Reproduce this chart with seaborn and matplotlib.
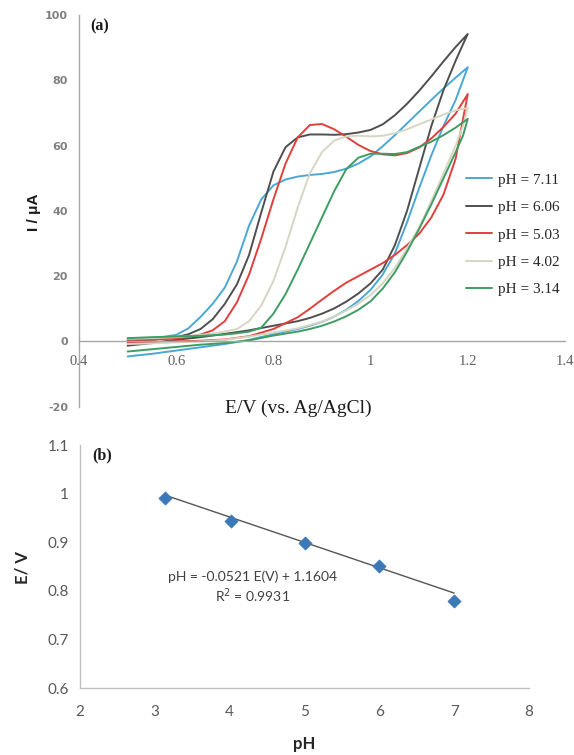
import numpy as np
import pandas as pd
import matplotlib
matplotlib.use("Agg")
import matplotlib.pyplot as plt
import seaborn as sns

# ---------------- (a) cyclic voltammograms ----------------
ph_labels = ["pH = 7.11", "pH = 6.06", "pH = 5.03", "pH = 4.02", "pH = 3.14"]
cv_colors = ["#4aa8d4", "#4f4f4f", "#e0403c", "#d6d6c2", "#3f9c62"]

# anodic sweep potentials (V) and currents (uA)
E_fwd = [0.50, 0.55, 0.60, 0.625, 0.65, 0.675, 0.70, 0.725, 0.75, 0.775, 0.80,
         0.825, 0.85, 0.875, 0.90, 0.925, 0.95, 0.975, 1.00, 1.025, 1.05, 1.075,
         1.10, 1.125, 1.15, 1.175, 1.20]
I_fwd_711 = [0.3, 0.8, 2.0, 4.0, 7.5, 11.5, 16.5, 24.5, 35.5, 43.5, 47.8,
             49.6, 50.5, 51.0, 51.3, 51.9, 52.9, 54.5, 56.7, 59.8, 63.2, 66.8,
             70.4, 74.0, 77.5, 80.8, 84.0]
I_fwd_606 = [0.0, 0.5, 1.3, 2.2, 3.8, 6.8, 11.5, 17.5, 26.5, 39.5, 52.0,
             59.5, 62.5, 63.4, 63.4, 63.3, 63.5, 64.0, 64.8, 66.5, 69.3, 72.8,
             76.8, 81.2, 85.8, 90.2, 94.2]
I_fwd_503 = [0.5, 0.5, 0.9, 1.4, 2.1, 3.4, 6.2, 12.0, 20.5, 31.5, 43.5,
             54.5, 62.5, 66.3, 66.6, 65.0, 62.7, 60.2, 58.3, 57.3, 57.0, 57.7,
             59.4, 62.2, 65.7, 69.8, 75.8]
I_fwd_402 = [0.8, 1.0, 1.3, 1.6, 2.0, 2.4, 3.0, 3.8, 6.2, 11.0, 18.5,
             29.0, 41.0, 51.5, 58.0, 61.5, 62.8, 63.0, 62.8, 63.0, 63.8, 65.0,
             66.5, 68.0, 69.5, 70.8, 71.5]
I_fwd_314 = [1.0, 1.3, 1.5, 1.6, 1.7, 1.9, 2.1, 2.5, 3.0, 4.2, 8.5,
             14.5, 22.0, 30.0, 38.0, 46.0, 52.8, 56.3, 57.5, 57.5, 57.4, 58.0,
             59.6, 61.2, 63.2, 65.5, 68.2]

# cathodic (return) sweep
E_rev = [1.20, 1.19, 1.175, 1.15, 1.125, 1.10, 1.075, 1.05, 1.025, 1.00, 0.975,
         0.95, 0.925, 0.90, 0.875, 0.85, 0.80, 0.75, 0.70, 0.65, 0.60, 0.55, 0.50]
I_rev_711 = [84.0, 80.0, 74.0, 66.0, 57.0, 47.0, 36.5, 27.0, 20.5, 15.8, 12.4,
             9.7, 7.6, 6.0, 4.8, 3.8, 2.2, 0.5, -0.8, -1.8, -2.8, -3.8, -4.6]
I_rev_606 = [94.2, 91.0, 86.0, 77.0, 66.0, 53.0, 40.0, 29.5, 22.0, 17.8, 14.7,
             12.2, 10.1, 8.5, 7.2, 6.2, 4.8, 3.4, 2.3, 1.3, 0.5, -0.5, -1.3]
I_rev_503 = [75.8, 68.0, 56.0, 45.0, 38.0, 33.0, 29.5, 26.5, 24.0, 22.0, 20.0,
             18.0, 15.5, 12.8, 10.0, 7.4, 3.8, 1.6, 0.6, 0.2, 0.0, -0.3, -0.5]
I_rev_402 = [71.5, 66.0, 60.0, 51.5, 43.0, 35.0, 28.5, 22.5, 17.8, 14.2, 11.6,
             9.5, 7.6, 6.1, 5.0, 4.0, 2.7, 1.5, 0.5, 0.0, -0.3, -0.6, -0.8]
I_rev_314 = [68.2, 63.0, 58.0, 50.0, 42.0, 34.5, 27.5, 21.2, 16.2, 12.3, 9.7,
             7.7, 6.1, 4.8, 3.8, 3.0, 1.8, 0.3, -0.5, -1.0, -1.7, -2.4, -3.1]

fwd_sets = [I_fwd_711, I_fwd_606, I_fwd_503, I_fwd_402, I_fwd_314]
rev_sets = [I_rev_711, I_rev_606, I_rev_503, I_rev_402, I_rev_314]

rows = []
for lab, i_f, i_r in zip(ph_labels, fwd_sets, rev_sets):
    for e, i in zip(E_fwd, i_f):
        rows.append((lab, e, i))
    for e, i in zip(E_rev, i_r):
        rows.append((lab, e, i))
cv = pd.DataFrame(rows, columns=["label", "E", "I"])

# ---------------- (b) peak potential vs pH ----------------
ph_values = [3.14, 4.02, 5.0, 6.0, 7.0]
peak_E = [0.991, 0.944, 0.899, 0.852, 0.779]
fit_slope = -0.0521
fit_intercept = 1.1604
fit_r2 = 0.9931

sns.set_theme(style="white")
plt.rcParams["font.family"] = ["DejaVu Sans"]

fig = plt.figure(figsize=(5.74, 7.55), dpi=100)
W, H = 574, 755


def rect(l, t, r, b):
    return [l / W, 1 - b / H, (r - l) / W, (b - t) / H]


ax = fig.add_axes(rect(79, 15, 565, 406.7))
sns.lineplot(data=cv, x="E", y="I", hue="label", hue_order=ph_labels,
             palette=cv_colors, sort=False, estimator=None, linewidth=1.4,
             ax=ax, legend=True)

# axis line crossing at I = 0 (set before styling the ticks: it resets them)
for s in ["top", "right"]:
    ax.spines[s].set_visible(False)
ax.spines["bottom"].set_position(("data", 0))
for s in ["left", "bottom"]:
    ax.spines[s].set_color("#a6a6a6")
    ax.spines[s].set_linewidth(1.0)

ax.set_xlim(0.4, 1.4)
ax.set_ylim(-20, 100)
ax.set_xticks([0.4, 0.6, 0.8, 1.0, 1.2, 1.4])
ax.set_xticklabels(["0.4", "0.6", "0.8", "1", "1.2", "1.4"],
                   fontfamily="Liberation Serif", fontsize=10.5,
                   color="#606060")
ax.set_yticks([-20, 0, 20, 40, 60, 80, 100])
ax.set_yticklabels(["-20", "0", "20", "40", "60", "80", "100"],
                   fontfamily="DejaVu Sans", fontsize=8, fontweight="bold",
                   color="#808080")
ax.tick_params(axis="both", colors="#a6a6a6", labelcolor="#606060",
               length=3, width=0.8, direction="out")
ax.tick_params(axis="x", pad=7)
ax.tick_params(axis="y", pad=5, labelcolor="#808080")
ax.set_xlabel("")
ax.set_ylabel("")
ax.grid(False)

handles, labels = ax.get_legend_handles_labels()
ax.legend(handles, labels, loc="upper left",
          bbox_to_anchor=(466 / W, 1 - 173 / H), bbox_transform=fig.transFigure,
          frameon=False, prop={"family": "Liberation Serif", "size": 11},
          handlelength=1.7, handletextpad=0.4, labelspacing=0.9,
          borderpad=0, borderaxespad=0)

fig.text(90 / W, 1 - 26 / H, "(a)", family="Liberation Serif",
         fontweight="bold", fontsize=11.5, ha="left", va="center",
         color="#1a1a1a")
fig.text(298 / W, 1 - 408 / H, "E/V (vs. Ag/AgCl)", family="Liberation Serif",
         fontsize=14, ha="center", va="center", color="#1a1a1a")
fig.text(34 / W, 1 - 212 / H, "I / \u03bcA", family="Liberation Sans",
         fontweight="bold", fontsize=11, rotation=90, ha="center",
         va="center", color="#1a1a1a")

# ---------------- panel (b) ----------------
bx = fig.add_axes(rect(80, 445, 529, 688.3))
pts = pd.DataFrame({"pH": ph_values, "E": peak_E})
fit_x = [ph_values[0], ph_values[-1]]
fit = pd.DataFrame({"pH": fit_x,
                    "E": [fit_slope * x + fit_intercept for x in fit_x]})
sns.lineplot(data=fit, x="pH", y="E", color="#555555", linewidth=1.0, ax=bx)
sns.scatterplot(data=pts, x="pH", y="E", marker="D", s=45, color="#3a78b8",
                edgecolor="#3a78b8", linewidth=0.5, ax=bx, zorder=3)

for s in ["top", "right"]:
    bx.spines[s].set_visible(False)
for s in ["left", "bottom"]:
    bx.spines[s].set_color("#bfbfbf")
    bx.spines[s].set_linewidth(1.0)
bx.set_xlim(2, 8)
bx.set_ylim(0.6, 1.1)
bx.set_xticks([2, 3, 4, 5, 6, 7, 8])
bx.set_xticklabels(["2", "3", "4", "5", "6", "7", "8"],
                   fontfamily="Lato", fontsize=11, color="#595959")
bx.set_yticks([0.6, 0.7, 0.8, 0.9, 1.0, 1.1])
bx.set_yticklabels(["0.6", "0.7", "0.8", "0.9", "1", "1.1"],
                   fontfamily="Lato", fontsize=11, color="#595959")
bx.tick_params(axis="both", colors="#bfbfbf", labelcolor="#595959",
               length=3, width=0.8, direction="out", pad=5)
bx.tick_params(axis="x", pad=9)
bx.set_xlabel("")
bx.set_ylabel("")
bx.grid(False)

fig.text(92 / W, 1 - 455 / H, "(b)", family="Liberation Serif",
         fontweight="bold", fontsize=11.5, ha="left", va="center",
         color="#1a1a1a")
fig.text(253 / W, 1 - 577 / H, f"pH = {fit_slope:.4f} E(V) + {fit_intercept:.4f}",
         family="Lato", fontsize=10, ha="center", va="center", color="#404040")
fig.text(253 / W, 1 - 596 / H, f"R$^2$ = {fit_r2:.4f}",
         family="Lato", fontsize=10, ha="center", va="center", color="#404040")
fig.text(22 / W, 1 - 568 / H, "E/ V", family="Lato", fontweight="bold",
         fontsize=12, rotation=90, ha="center", va="center", color="#262626")
fig.text(304 / W, 1 - 744 / H, "pH", family="Lato", fontweight="bold",
         fontsize=12, ha="center", va="center", color="#262626")

fig.savefig("out.png", dpi=100)
